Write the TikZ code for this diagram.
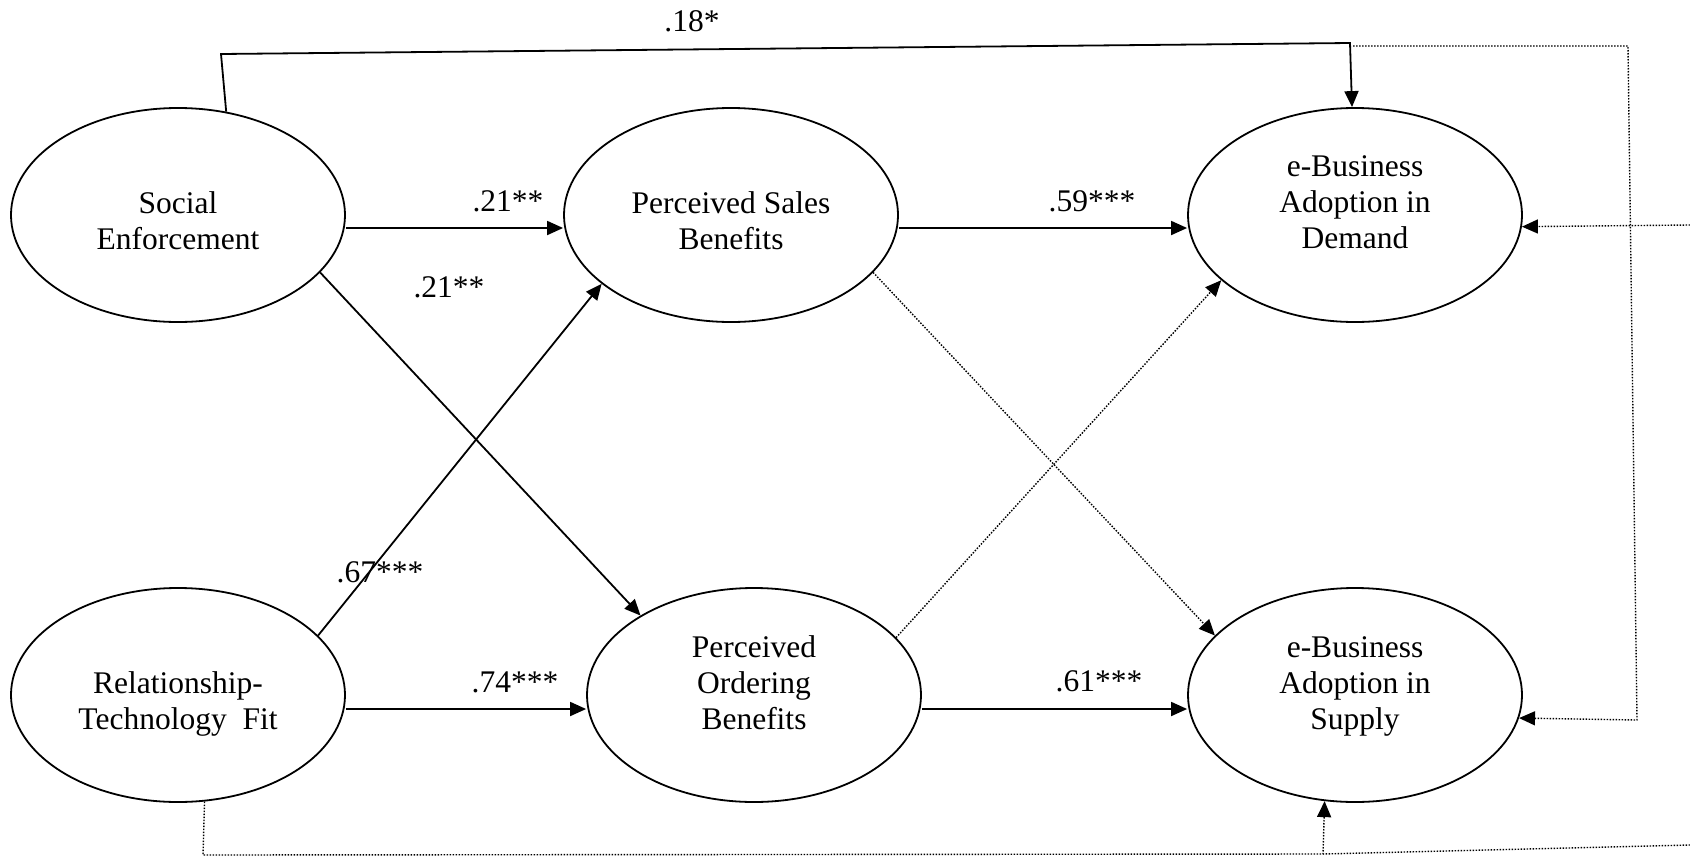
\documentclass[tikz,border=0pt]{standalone}
\usepackage{fontspec}
\setmainfont{Liberation Serif}
\usetikzlibrary{arrows.meta,shapes.geometric}
\begin{document}
\begin{tikzpicture}[x=1pt,y=-1pt,
  construct/.style={ellipse,draw,line width=1.8pt,minimum width=334pt,minimum height=214pt,inner sep=0pt},
  nodetext/.style={align=center,inner sep=0pt,font=\fontsize{31.5}{36}\selectfont},
  coef/.style={inner sep=0pt,font=\fontsize{31.5}{36}\selectfont},
  solidarrow/.style={line width=1.8pt,-{Triangle[length=16pt,width=14pt]}},
  solidline/.style={line width=1.8pt},
  dotline/.style={line width=1.4pt,dash pattern=on 1.5pt off 1.5pt},
  dotarrow/.style={dotline,-{Triangle[length=16pt,width=14pt]}},
]
\useasboundingbox (0,0) rectangle (1690,857);

% constructs
\node[construct] (se)  at (178,215) {};
\node[construct] (psb) at (731,215) {};
\node[construct] (dem) at (1355,215) {};
\node[construct] (rtf) at (178,695) {};
\node[construct] (pob) at (754,695) {};
\node[construct] (sup) at (1355,695) {};

\node[nodetext] (se-t)  at (178,223.8)  {\strut Social\\\strut Enforcement};
\node[nodetext] (psb-t) at (731,223.8)  {\strut Perceived Sales\\\strut Benefits};
\node[nodetext] (dem-t) at (1355,204.8) {\strut e-Business\\\strut Adoption in\\\strut Demand};
\node[nodetext] (rtf-t) at (178,703.8)  {\strut Relationship-\\\strut Technology~~Fit};
\node[nodetext] (pob-t) at (754,685.8)  {\strut Perceived\\\strut Ordering\\\strut Benefits};
\node[nodetext] (sup-t) at (1355,685.8) {\strut e-Business\\\strut Adoption in\\\strut Supply};

% solid paths
\draw[solidarrow] ([yshift=-13pt]se.east) -- ([yshift=-13pt]psb.west);
\draw[solidarrow] (se.-22.5) -- (pob.145);
\draw[solidarrow] (rtf.23) -- (psb.208);
\draw[solidarrow] ([yshift=-14pt]rtf.east) -- ([yshift=-14pt]pob.west);
\draw[solidarrow] ([yshift=-13pt]psb.east) -- ([yshift=-13pt]dem.west);
\draw[solidarrow] ([yshift=-14pt]pob.east) -- ([yshift=-14pt]sup.west);

% .18* path
\coordinate (c1) at (221,54);
\coordinate (c2) at (1350,43);
\draw[solidarrow] (se.65) -- (c1) -- (c2) -- ([xshift=-3pt]dem.north);

% dotted paths
\draw[dotarrow] (psb.-22) -- (sup.157);
\draw[dotarrow] (pob.22.6) -- (dem.206);

\coordinate (d1) at (1353,46);
\coordinate (d2) at (1628,46);
\coordinate (d3) at (1637,720);
\draw[dotarrow] (d1) -- (d2) -- (d3) -- (sup.-8.7);

\coordinate (e1) at (1690,225);
\draw[dotarrow] (e1) -- (dem.-4.8);

\coordinate (b1) at (203,855);
\coordinate (b2) at (1323,854);
\draw[dotarrow] (rtf.-76.8) -- (b1) -- (b2) -- (sup.-106.8);

\coordinate (e2) at (1690,845);
\draw[dotline] (e2) -- (b2);

% coefficients
\node[coef] (l18) at (692,21.5) {.18*};
\node[coef] (l21a) at (508,201) {.21**};
\node[coef] (l21b) at (449,287) {.21**};
\node[coef] (l67) at (380,572) {.67***};
\node[coef] (l74) at (515,682) {.74***};
\node[coef] (l59) at (1092,201) {.59***};
\node[coef] (l61) at (1099,681) {.61***};
\end{tikzpicture}
\end{document}
